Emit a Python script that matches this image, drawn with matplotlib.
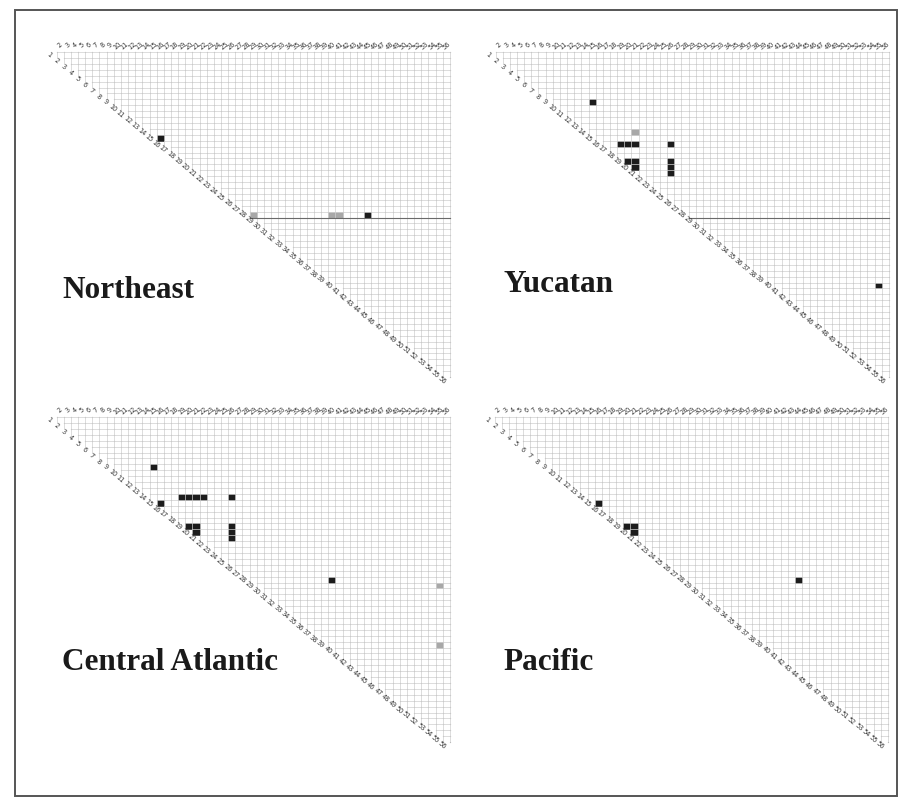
import matplotlib
matplotlib.use('Agg')
import matplotlib.pyplot as plt
from matplotlib.patches import Rectangle

# ---------------- data ----------------
N_MARKERS = 56
marker_labels = [str(k + 1) for k in range(N_MARKERS)]

regions = ["Northeast", "Yucatan", "Central Atlantic", "Pacific"]

# (row, col) cells of the upper-triangle matrix
ne_black = [(14, 15), (27, 44)]
ne_gray = [(27, 28), (27, 39), (27, 40)]
ne_dark_rows = [27]

yuc_black = [(8, 14), (15, 18), (15, 19), (15, 20), (15, 25),
             (18, 19), (18, 20), (19, 20), (18, 25), (19, 25), (20, 25),
             (39, 54)]
yuc_gray = [(13, 20)]
yuc_dark_rows = [27]

ca_black = [(8, 14), (13, 18), (13, 19), (13, 20), (13, 21), (13, 25),
            (14, 15), (18, 19), (18, 20), (19, 20), (18, 25), (19, 25),
            (20, 25), (27, 39)]
ca_gray = [(28, 54), (38, 54)]
ca_dark_rows = []

pac_black = [(14, 15), (18, 19), (18, 20), (19, 20), (27, 43)]
pac_gray = []
pac_dark_rows = []

black_sets = [ne_black, yuc_black, ca_black, pac_black]
gray_sets = [ne_gray, yuc_gray, ca_gray, pac_gray]
dark_rows_sets = [ne_dark_rows, yuc_dark_rows, ca_dark_rows, pac_dark_rows]

# ---------------- layout ----------------
W, H = 910, 802
DPI = 100
fig = plt.figure(figsize=(W / DPI, H / DPI), dpi=DPI)
fig.patch.set_facecolor('white')

CW, CH = 7.15, 5.91  # cell size in pixels
anchors = [(53, 55), (492, 55), (53, 420), (491, 420)]  # pixel centre of cell (0,0)
title_pos = [(62, 290), (503, 285), (62, 662), (503, 662)]

XL = (-2.0, N_MARKERS + 0.5)
YL = (N_MARKERS + 2, -3)

# outer frame
frame = fig.add_axes([0, 0, 1, 1])
frame.set_xlim(0, W)
frame.set_ylim(H, 0)
frame.axis('off')
frame.add_patch(Rectangle((15, 10), 882, 786, fill=False, edgecolor='#555555', lw=1.4))

for p in range(4):
    ax0, ay0 = anchors[p]
    left = ax0 + XL[0] * CW
    right = ax0 + XL[1] * CW
    top = ay0 + YL[1] * CH
    bottom = ay0 + YL[0] * CH
    ax = fig.add_axes([left / W, 1 - bottom / H, (right - left) / W, (bottom - top) / H])
    ax.set_xlim(*XL)
    ax.set_ylim(*YL)
    ax.axis('off')
    n = N_MARKERS
    gcol = '#cfcfcf'
    # horizontal grid lines
    for k in range(n):
        ax.plot([k + 0.5, n - 0.5], [k - 0.5, k - 0.5], color=gcol, lw=0.5)
    ax.plot([n - 0.5, n - 0.5], [-0.5, n - 1.5], color=gcol, lw=0.5)
    # vertical grid lines
    for m in range(1, n):
        ax.plot([m - 0.5, m - 0.5], [-0.5, m - 0.5], color=gcol, lw=0.5)
    # intersection dots
    xs, ys = [], []
    for k in range(n):
        for m in range(k + 1, n + 1):
            xs.append(m - 0.5)
            ys.append(k - 0.5)
    ax.scatter(xs, ys, s=0.8, color='#9a9a9a', lw=0)
    # dark row lines
    for r in dark_rows_sets[p]:
        ax.plot([r + 0.5, n - 0.5], [r + 0.5, r + 0.5], color='#6a6a6a', lw=0.8)
    # cells
    for (r, c) in gray_sets[p]:
        ax.add_patch(Rectangle((c - 0.5, r - 0.5), 1, 1, facecolor='#a8a8a8',
                               edgecolor='#a8a8a8', lw=0.4))
    for (r, c) in black_sets[p]:
        ax.add_patch(Rectangle((c - 0.5, r - 0.5), 1, 1, facecolor='#1c1c1c',
                               edgecolor='#1c1c1c', lw=0.4))
    # labels
    for k in range(n):
        ax.text(k - 0.6, k, marker_labels[k], fontsize=4.7, color='#333333', rotation=-40,
                ha='center', va='center')
        if k >= 1:
            ax.text(k, -1.6, marker_labels[k], fontsize=4.7, color='#333333', rotation=40,
                    ha='center', va='center')
    tx, ty = title_pos[p]
    frame.text(tx, ty, regions[p], fontsize=22.5, fontweight='bold',
               family='Liberation Serif', color='#1a1a1a', ha='left', va='center')

fig.savefig('out.png', dpi=DPI, facecolor='white')
